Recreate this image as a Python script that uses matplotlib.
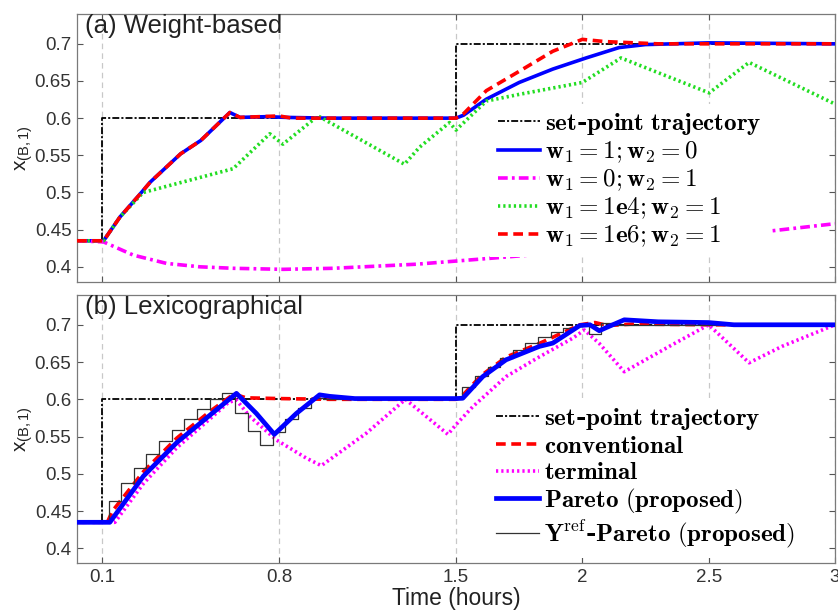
import numpy as np
import matplotlib
matplotlib.use("Agg")
import matplotlib.pyplot as plt
from matplotlib.ticker import FormatStrFormatter

plt.rcParams['font.family'] = ['Liberation Sans', 'DejaVu Sans']
plt.rcParams['mathtext.fontset'] = 'cm'
plt.rcParams['lines.scale_dashes'] = False

# set-point (step trajectory)
sp_t = [0.0, 0.1, 1.5, 3.0]
sp_v = [0.435, 0.6, 0.7, 0.7]

# (a) weight-based
w10_t = [0, 0.105, 0.17, 0.25, 0.29, 0.41, 0.49, 0.605, 0.645, 0.75, 0.83, 1.0, 1.5,
         1.53, 1.62, 1.75, 1.883, 2.015, 2.146, 2.25, 2.5, 3.0]
w10_v = [0.435, 0.435, 0.467, 0.498, 0.514, 0.552, 0.570, 0.6076, 0.601, 0.602, 0.601, 0.6, 0.6,
         0.604, 0.6255, 0.648, 0.666, 0.681, 0.695, 0.699, 0.7013, 0.7]

w01_t = [0, 0.105, 0.223, 0.354, 0.486, 0.618, 0.815, 1.013, 1.343, 1.62, 1.87, 2.766, 3.0]
w01_v = [0.435, 0.4335, 0.4157, 0.4046, 0.400, 0.398, 0.3966, 0.398, 0.4035, 0.411, 0.418, 0.449, 0.458]

w1e4_t = [0, 0.105, 0.17, 0.262, 0.618, 0.763, 0.815, 0.954, 1.296, 1.356, 1.474, 1.5,
          1.62, 1.75, 2.0, 2.153, 2.502, 2.66, 3.0]
w1e4_v = [0.435, 0.435, 0.467, 0.50, 0.532, 0.579, 0.565, 0.603, 0.538, 0.561, 0.594, 0.584,
          0.623, 0.632, 0.648, 0.681, 0.634, 0.675, 0.619]

w1e6_t = [0, 0.105, 0.17, 0.25, 0.29, 0.41, 0.49, 0.605, 0.645, 0.8, 0.85, 1.0, 1.5,
          1.53, 1.62, 1.75, 1.883, 2.0, 2.09, 2.3, 3.0]
w1e6_v = [0.435, 0.435, 0.467, 0.498, 0.514, 0.552, 0.570, 0.6076, 0.601, 0.603, 0.6, 0.6, 0.6,
          0.606, 0.637, 0.663, 0.69, 0.706, 0.703, 0.7, 0.7]

# (b) lexicographical
conv_t = [0, 0.12, 0.14, 0.263, 0.395, 0.527, 0.62, 0.67, 0.8, 1.0, 1.5, 1.52, 1.6,
          1.7, 1.83, 1.99, 2.05, 2.1, 2.2, 2.5, 3.0]
conv_v = [0.435, 0.435, 0.45, 0.503, 0.548, 0.584, 0.607, 0.602, 0.601, 0.6, 0.6, 0.603, 0.632,
          0.657, 0.675, 0.70, 0.703, 0.699, 0.701, 0.7, 0.7]

term_t = [0, 0.15, 0.263, 0.395, 0.527, 0.6, 0.631, 0.684, 0.789, 0.908, 0.967, 1.145, 1.30,
          1.468, 1.5, 1.566, 1.698, 1.83, 1.962, 2.008, 2.067, 2.166, 2.344, 2.5, 2.66, 2.79, 3.0]
term_v = [0.435, 0.435, 0.487, 0.535, 0.574, 0.596, 0.599, 0.577, 0.5455, 0.521, 0.511, 0.5545, 0.60,
          0.553, 0.566, 0.590, 0.6305, 0.657, 0.682, 0.693, 0.675, 0.637, 0.671, 0.70, 0.649, 0.671, 0.70]

par_t = [0, 0.13, 0.263, 0.395, 0.527, 0.631, 0.71, 0.781, 0.868, 0.96, 1.0, 1.1, 1.5,
         1.527, 1.606, 1.698, 1.83, 1.883, 1.99, 2.03, 2.067, 2.1, 2.166, 2.3, 2.5, 2.6, 3.0]
par_v = [0.435, 0.435, 0.497, 0.542, 0.579, 0.608, 0.581, 0.553, 0.581, 0.606, 0.604, 0.601, 0.601,
         0.6015, 0.6305, 0.653, 0.671, 0.6754, 0.699, 0.70, 0.692, 0.697, 0.7067, 0.704, 0.703, 0.70, 0.70]

yref_t = [0, 0.125, 0.175, 0.225, 0.275, 0.325, 0.375, 0.425, 0.475, 0.525, 0.575, 0.625,
          0.675, 0.725, 0.775, 0.825, 0.875, 0.925, 0.975, 1.525, 1.575, 1.625, 1.675, 1.725,
          1.775, 1.825, 1.875, 1.925, 1.975, 2.025, 2.075, 2.125, 3.0]
yref_v = [0.435, 0.4635, 0.488, 0.508, 0.527, 0.544, 0.559, 0.574, 0.587, 0.600, 0.609, 0.582,
          0.557, 0.539, 0.556, 0.573, 0.588, 0.602, 0.600, 0.617, 0.631, 0.643, 0.655, 0.666,
          0.675, 0.683, 0.690, 0.6955, 0.700, 0.687, 0.703, 0.700, 0.700]

xticks = [0.1, 0.8, 1.5, 2, 2.5, 3]
yticks = [0.4, 0.45, 0.5, 0.55, 0.6, 0.65, 0.7]

fig = plt.figure(figsize=(8.38, 6.13), dpi=100)
ax1 = fig.add_axes([0.0919, 0.5405, 0.9045, 0.4365])
ax2 = fig.add_axes([0.0919, 0.0811, 0.9045, 0.4377])

sp_style = dict(color='black', lw=1.3, dashes=(5, 1.5, 1.5, 1.5), drawstyle='steps-post')
blue = '#0000ff'
mag = '#ff00ff'
green = '#22dd22'
red = '#ff0000'

# panel (a)
ax1.plot(sp_t, sp_v, label='$\\mathbf{set}$-$\\mathbf{point\\ trajectory}$', zorder=3, **sp_style)
ax1.plot(w10_t, w10_v, color=blue, lw=2.6, label='$\\mathbf{w_1 = 1; w_2 = 0}$', zorder=4)
ax1.plot(w01_t, w01_v, color=mag, lw=2.6, dashes=(7, 3, 2, 3), label='$\\mathbf{w_1 = 0; w_2 = 1}$', zorder=4)
ax1.plot(w1e4_t, w1e4_v, color=green, lw=2.6, dashes=(1.6, 2.2), label='$\\mathbf{w_1 = 1e4; w_2 = 1}$', zorder=5)
ax1.plot(w1e6_t, w1e6_v, color=red, lw=2.6, dashes=(7, 4), label='$\\mathbf{w_1 = 1e6; w_2 = 1}$', zorder=5)

# panel (b)
ax2.plot(sp_t, sp_v, label='$\\mathbf{set}$-$\\mathbf{point\\ trajectory}$', zorder=3, **sp_style)
ax2.plot(conv_t, conv_v, color=red, lw=2.6, dashes=(7, 4), label='$\\mathbf{conventional}$', zorder=4)
ax2.plot(term_t, term_v, color=mag, lw=2.6, dashes=(1.6, 2.2), label='$\\mathbf{terminal}$', zorder=4)
ax2.plot(yref_t, yref_v, color='#333333', lw=0.9, drawstyle='steps-post',
         label='$\\mathbf{Y}^{\\mathrm{ref}}$-$\\mathbf{Pareto\\ (proposed)}$', zorder=4)
ax2.plot(par_t, par_v, color=blue, lw=3.4, label='$\\mathbf{Pareto\\ (proposed)}$', zorder=5)

for ax in (ax1, ax2):
    ax.set_xlim(0, 3)
    ax.set_ylim(0.38, 0.74)
    ax.set_xticks(xticks)
    ax.set_yticks(yticks)
    ax.yaxis.set_major_formatter(FormatStrFormatter('%g'))
    ax.xaxis.set_major_formatter(FormatStrFormatter('%g'))
    ax.grid(axis='x', color='#c8c8c8', lw=0.9, dashes=(4, 3))
    ax.tick_params(direction='in', top=True, right=True, length=4, width=0.8,
                   colors='#555555', labelcolor='#333333', labelsize=13.5, pad=4)
    for s in ax.spines.values():
        s.set_color('#7a7a7a')
        s.set_linewidth(0.9)
    ax.set_ylabel('$\\mathregular{x_{(B,1)}}$', fontsize=15, color='#222222')
    ax.yaxis.set_label_coords(-0.055, 0.5)

ax1.tick_params(labelbottom=False)
ax2.set_xlabel('Time (hours)', fontsize=16.5, color='#222222', labelpad=1)

ax1.text(0.011, 1.0, '(a) Weight-based', transform=ax1.transAxes, ha='left', va='top',
         fontsize=18.5, color='#222222')
ax2.text(0.011, 1.0, '(b) Lexicographical', transform=ax2.transAxes, ha='left', va='top',
         fontsize=18.5, color='#222222')

leg_kw = dict(loc='upper left', frameon=True, facecolor='white', edgecolor='none', framealpha=1,
              fancybox=False, handlelength=1.7, handletextpad=0.2,
              labelspacing=0.09, borderpad=0.3, borderaxespad=0,
              prop={'family': 'DejaVu Serif', 'weight': 'bold', 'size': 18})
leg1 = ax1.legend(bbox_to_anchor=(0.545, 0.665), **leg_kw)
leg1.set_zorder(10)
h, l = ax2.get_legend_handles_labels()
order = [0, 1, 2, 4, 3]
leg2 = ax2.legend([h[i] for i in order], [l[i] for i in order], bbox_to_anchor=(0.543, 0.615), **leg_kw)
leg2.set_zorder(10)

fig.savefig('out.png', dpi=100)
